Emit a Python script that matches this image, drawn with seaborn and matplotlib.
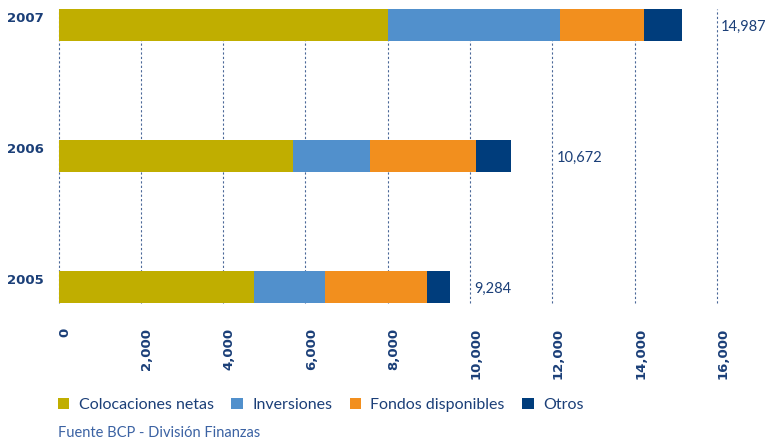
import matplotlib.pyplot as plt
import numpy as np
import pandas as pd
import seaborn as sns
from matplotlib.patches import Patch
from matplotlib.transforms import ScaledTranslation

years = ["2007", "2006", "2005"]
series = ["Colocaciones netas", "Inversiones", "Fondos disponibles", "Otros"]
colocaciones = [7995, 5690, 4740]
inversiones = [4180, 1890, 1745]
fondos = [2045, 2555, 2460]
otros = [940, 855, 560]
total_labels = ["14,987", "10,672", "9,284"]
totals = [14987, 10672, 9284]
xticks = [0, 2000, 4000, 6000, 8000, 10000, 12000, 14000, 16000]
colors = ["#c0ae00", "#5190cc", "#f28f1e", "#003d7c"]
navy = "#1b3f78"

df = pd.DataFrame({
    "year": years,
    "Colocaciones netas": colocaciones,
    "Inversiones": inversiones,
    "Fondos disponibles": fondos,
    "Otros": otros,
})
cum = df[series].cumsum(axis=1)
cum["year"] = df["year"]

sns.set_style("white")
plt.rcParams["font.family"] = ["Lato", "DejaVu Sans"]

W, H = 767, 443
fig = plt.figure(figsize=(W / 100, H / 100), dpi=100)
ax = fig.add_axes([58.5 / W, 1 - 303 / H, (717 - 58.5) / W, 294 / H])

# stacked bars: draw cumulative totals from the longest down
for name, color in reversed(list(zip(series, colors))):
    sns.barplot(data=cum, x=name, y="year", order=years, color=color, saturation=1,
                width=0.244, orient="h", errorbar=None, linewidth=0, ax=ax, zorder=3)

ax.set_xlim(0, 16000)
ax.set_ylim(2.122, -0.122)
ax.set_xticks(xticks)
ax.set_xticklabels([f"{v:,}" for v in xticks])
ax.set_xlabel("")
ax.set_ylabel("")
ax.grid(axis="x", color="#4a6898", linestyle=(0, (2, 2)), linewidth=0.8, zorder=0)
ax.grid(axis="y", visible=False)
for gl in ax.get_xgridlines():
    gl.set_clip_on(False)
ax.set_axisbelow(True)
sns.despine(ax=ax, left=True, bottom=True)

ax.tick_params(axis="x", length=0, pad=18, labelrotation=90, labelsize=9.5, labelcolor=navy)
ax.tick_params(axis="y", length=0, pad=10.5, labelsize=9.5, labelcolor=navy)
for lab in ax.get_xticklabels():
    lab.set_fontweight("bold")
    lab.set_family("DejaVu Sans")
    lab.set_transform(lab.get_transform() + ScaledTranslation(6 / 100, 0, fig.dpi_scale_trans))
for lab in ax.get_yticklabels():
    lab.set_fontweight("bold")
    lab.set_family("DejaVu Sans")
    lab.set_transform(lab.get_transform() + ScaledTranslation(0, 8 / 100, fig.dpi_scale_trans))

# totals sit just right of the next grid line past the bar
for i, (tot, lab) in enumerate(zip(totals, total_labels)):
    xpos = np.ceil(tot / 2000) * 2000
    ax.annotate(lab, (xpos, i), xytext=(3, -1.5), textcoords="offset points", ha="left", va="center",
                fontsize=10.5, color=navy, annotation_clip=False)

handles = [Patch(facecolor=c, edgecolor="none", label=s) for s, c in zip(series, colors)]
fig.legend(handles=handles, loc="center left", bbox_to_anchor=(58 / W, 1 - 405 / H), ncol=4,
           frameon=False, fontsize=11.5, handlelength=0.7, handleheight=0.7, handletextpad=0.6,
           columnspacing=1.1, borderaxespad=0, borderpad=0, labelcolor=navy)

fig.text(58 / W, 1 - 433 / H, "Fuente BCP - División Finanzas", va="center", fontsize=10.5, color="#3b62a3")

fig.savefig("out.png", dpi=100)
